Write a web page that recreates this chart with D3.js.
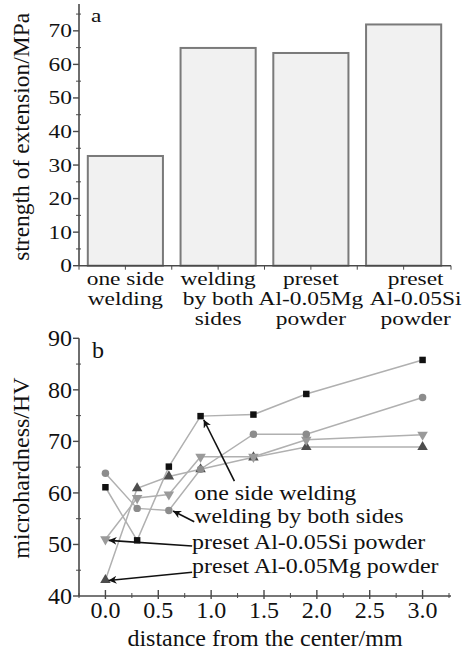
<!DOCTYPE html>
<html>
<head>
<meta charset="utf-8">
<script src="https://cdn.jsdelivr.net/npm/d3@7"></script>
<style>
  body { margin: 0; background: #fff; }
  svg text { font-family: "Liberation Serif", "Times New Roman", serif; fill: #111; }
</style>
</head>
<body>
<div class="chart"></div>
<script>
// ---- panel a: tensile strength ----
const categories = [
  ["one side", "welding"],
  ["welding", "by both", "sides"],
  ["preset", "Al-0.05Mg", "powder"],
  ["preset", "Al-0.05Si", "powder"]
];
const strength = [32.7, 64.9, 63.4, 71.9];
const strengthTicks = [0, 10, 20, 30, 40, 50, 60, 70];

// ---- panel b: microhardness ----
const distance = [0, 0.3, 0.6, 0.9, 1.4, 1.9, 3.0];
const oneSide = [61.1, 50.8, 65.1, 74.9, 75.2, 79.2, 85.8];
const bothSides = [63.8, 57.0, 56.6, 64.6, 71.4, 71.4, 78.5];
const presetSi = [51.0, 59.0, 59.7, 67.0, 67.0, 70.3, 71.3];
const presetMg = [43.1, 60.9, 63.2, 64.6, 66.9, 68.9, 68.9];
const hvTicks = [40, 50, 60, 70, 80, 90];
const distTicks = [0, 0.5, 1.0, 1.5, 2.0, 2.5, 3.0];

const width = 467;
const height = 650;

const svg = d3.select(".chart")
              .append("svg")
              .attr("width", width)
              .attr("height", height);

const axisColor = "#4a4a4a";

//////////////////////// panel a ////////////////////////

const names = categories.map(c => c.join(" "));
const xa = d3.scaleBand()
             .domain(names)
             .range([79, 450])
             .paddingInner(0.19)
             .paddingOuter(0.095);
const ya = d3.scaleLinear().domain([0, 78]).range([265.7, 4]);

svg.selectAll("rect.bar")
  .data(strength)
  .enter()
  .append("rect")
  .attr("class", "bar")
  .attr("x", (d, i) => xa(names[i]))
  .attr("y", d => ya(d))
  .attr("width", xa.bandwidth())
  .attr("height", d => ya(0) - ya(d))
  .attr("fill", "#f1f1f1")
  .attr("stroke", "#7a7a7a")
  .attr("stroke-width", 2);

// y axis a
const gya = svg.append("g");
gya.append("line")
   .attr("x1", 79).attr("x2", 79)
   .attr("y1", ya(78)).attr("y2", ya(0))
   .attr("stroke", axisColor).attr("stroke-width", 1.6);
gya.selectAll("line.minor")
   .data(d3.range(5, 78, 10))
   .enter().append("line")
   .attr("x1", 76).attr("x2", 81)
   .attr("y1", d => ya(d)).attr("y2", d => ya(d))
   .attr("stroke", axisColor);
gya.selectAll("line.major")
   .data(strengthTicks)
   .enter().append("line")
   .attr("x1", 73).attr("x2", 79)
   .attr("y1", d => ya(d)).attr("y2", d => ya(d))
   .attr("stroke", axisColor).attr("stroke-width", 1.4);
gya.selectAll("text")
   .data(strengthTicks)
   .enter().append("text")
   .attr("transform", d => `translate(72,${ya(d) + 6.5}) scale(1.3,1)`)
   .attr("text-anchor", "end")
   .style("font-size", "18px")
   .text(d => d);

// x axis a
const gxa = svg.append("g");
gxa.append("line")
   .attr("x1", 79).attr("x2", 451)
   .attr("y1", ya(0)).attr("y2", ya(0))
   .attr("stroke", axisColor).attr("stroke-width", 1.6);
const bandEdges = names.map(n => xa(n) - xa.step() * xa.paddingInner() / 2).concat([451]);
const bandMids = names.map(n => xa(n) + xa.bandwidth() / 2);
gxa.selectAll("line.tk")
   .data(bandEdges.concat(bandMids))
   .enter().append("line")
   .attr("x1", d => d).attr("x2", d => d)
   .attr("y1", ya(0)).attr("y2", ya(0) + 4)
   .attr("stroke", axisColor);

svg.selectAll("text.cat")
  .data(categories)
  .enter()
  .append("text")
  .attr("class", "cat")
  .attr("transform", (d, i) => `translate(${bandMids[i] + (i === 3 ? 12 : 0)},285) scale(1.3,1)`)
  .attr("text-anchor", "middle")
  .style("font-size", "18px")
  .each(function(d) {
    d3.select(this).selectAll("tspan")
      .data(d)
      .enter().append("tspan")
      .attr("x", 0)
      .attr("dy", (t, j) => j === 0 ? 0 : 20)
      .text(t => t);
  });

svg.append("text")
   .attr("transform", `translate(29,${(ya(0) + ya(78)) / 2 + 2}) rotate(-90)`)
   .attr("text-anchor", "middle")
   .style("font-size", "23.5px")
   .text("strength of extension/MPa");

svg.append("text")
   .attr("transform", "translate(91,22) scale(1.3,1)")
   .style("font-size", "18px")
   .text("a");

//////////////////////// panel b ////////////////////////

const xb = d3.scaleLinear().domain([-0.25, 3.25]).range([79, 449]);
const yb = d3.scaleLinear().domain([40, 90]).range([596, 338.3]);

// axes b
const gb = svg.append("g");
gb.append("line")
  .attr("x1", 79).attr("x2", 79)
  .attr("y1", yb(90)).attr("y2", yb(40))
  .attr("stroke", axisColor).attr("stroke-width", 1.6);
gb.append("line")
  .attr("x1", 79).attr("x2", 451)
  .attr("y1", yb(40)).attr("y2", yb(40))
  .attr("stroke", axisColor).attr("stroke-width", 1.6);
gb.selectAll("line.ym")
  .data(d3.range(45, 90, 10))
  .enter().append("line")
  .attr("x1", 76).attr("x2", 81)
  .attr("y1", d => yb(d)).attr("y2", d => yb(d))
  .attr("stroke", axisColor);
gb.selectAll("line.yM")
  .data(hvTicks)
  .enter().append("line")
  .attr("x1", 73).attr("x2", 79)
  .attr("y1", d => yb(d)).attr("y2", d => yb(d))
  .attr("stroke", axisColor).attr("stroke-width", 1.4);
gb.selectAll("text.yl")
  .data(hvTicks)
  .enter().append("text")
  .attr("x", 72)
  .attr("y", d => yb(d) + 8)
  .attr("text-anchor", "end")
  .style("font-size", "24px")
  .text(d => d);
gb.selectAll("line.xm")
  .data(d3.range(-0.25, 3.3, 0.5))
  .enter().append("line")
  .attr("x1", d => xb(d)).attr("x2", d => xb(d))
  .attr("y1", yb(40) - 3).attr("y2", yb(40) + 2)
  .attr("stroke", axisColor);
gb.selectAll("line.xM")
  .data(distTicks)
  .enter().append("line")
  .attr("x1", d => xb(d)).attr("x2", d => xb(d))
  .attr("y1", yb(40) - 6).attr("y2", yb(40) + 3)
  .attr("stroke", axisColor).attr("stroke-width", 1.4);
gb.selectAll("text.xl")
  .data(distTicks)
  .enter().append("text")
  .attr("x", d => xb(d))
  .attr("y", 618)
  .attr("text-anchor", "middle")
  .style("font-size", "24px")
  .text(d => d.toFixed(1));

svg.append("text")
   .attr("x", 265).attr("y", 646)
   .attr("text-anchor", "middle")
   .style("font-size", "24px")
   .text("distance from the center/mm");

svg.append("text")
   .attr("transform", "translate(29,468) rotate(-90)")
   .attr("text-anchor", "middle")
   .style("font-size", "24px")
   .text("microhardness/HV");

svg.append("text")
   .attr("x", 92).attr("y", 358)
   .style("font-size", "24px")
   .text("b");

// series
const series = [
  { vals: presetMg, shape: d3.symbolTriangle, fill: "#4d4d4d", size: 48, rot: 0 },
  { vals: presetSi, shape: d3.symbolTriangle, fill: "#9a9a9a", size: 48, rot: 180 },
  { vals: bothSides, shape: d3.symbolCircle, fill: "#8c8c8c", size: 44, rot: 0 },
  { vals: oneSide, shape: d3.symbolSquare, fill: "#111", size: 42, rot: 0 }
];

const line = d3.line()
               .x((d, i) => xb(distance[i]))
               .y(d => yb(d));

series.forEach(s => {
  svg.append("path")
     .attr("d", line(s.vals))
     .attr("fill", "none")
     .attr("stroke", "#b0b0b0")
     .attr("stroke-width", 1.5);
});
series.forEach(s => {
  svg.selectAll(null)
     .data(s.vals)
     .enter()
     .append("path")
     .attr("d", d3.symbol().type(s.shape).size(s.size))
     .attr("transform", (d, i) => `translate(${xb(distance[i])},${yb(d)}) rotate(${s.rot})`)
     .attr("fill", s.fill);
});

// annotations
const labels = ["one side welding", "welding by both sides", "preset Al-0.05Si powder", "preset Al-0.05Mg powder"];
const labelX = [0.84, 0.84, 0.82, 0.82];
const labelY = [58.7, 54.2, 49.1, 44.5];
const arrowFrom = [[1.22, 62.3], [0.84, 54.4], [0.82, 49.7], [0.82, 44.6]];
const arrowTo = [[0.93, 74.2], [0.64, 56.5], [0.03, 50.8], [0.03, 43.0]];

svg.append("defs").append("marker")
   .attr("id", "ah")
   .attr("viewBox", "0 0 10 10")
   .attr("refX", 10).attr("refY", 5)
   .attr("markerWidth", 8).attr("markerHeight", 8)
   .attr("markerUnits", "userSpaceOnUse")
   .attr("orient", "auto")
   .append("path")
   .attr("d", "M0,0 L10,5 L0,10 L3,5 Z")
   .attr("fill", "#111");

svg.selectAll("line.arrow")
  .data(arrowFrom)
  .enter()
  .append("line")
  .attr("x1", d => xb(d[0])).attr("y1", d => yb(d[1]))
  .attr("x2", (d, i) => xb(arrowTo[i][0])).attr("y2", (d, i) => yb(arrowTo[i][1]))
  .attr("stroke", "#111")
  .attr("stroke-width", 1.6)
  .attr("marker-end", "url(#ah)");

svg.selectAll("text.ann")
  .data(labels)
  .enter()
  .append("text")
  .attr("transform", (d, i) => `translate(${xb(labelX[i])},${yb(labelY[i])}) scale(1.14,1)`)
  .style("font-size", "21px")
  .text(d => d);
</script>
</body>
</html>
